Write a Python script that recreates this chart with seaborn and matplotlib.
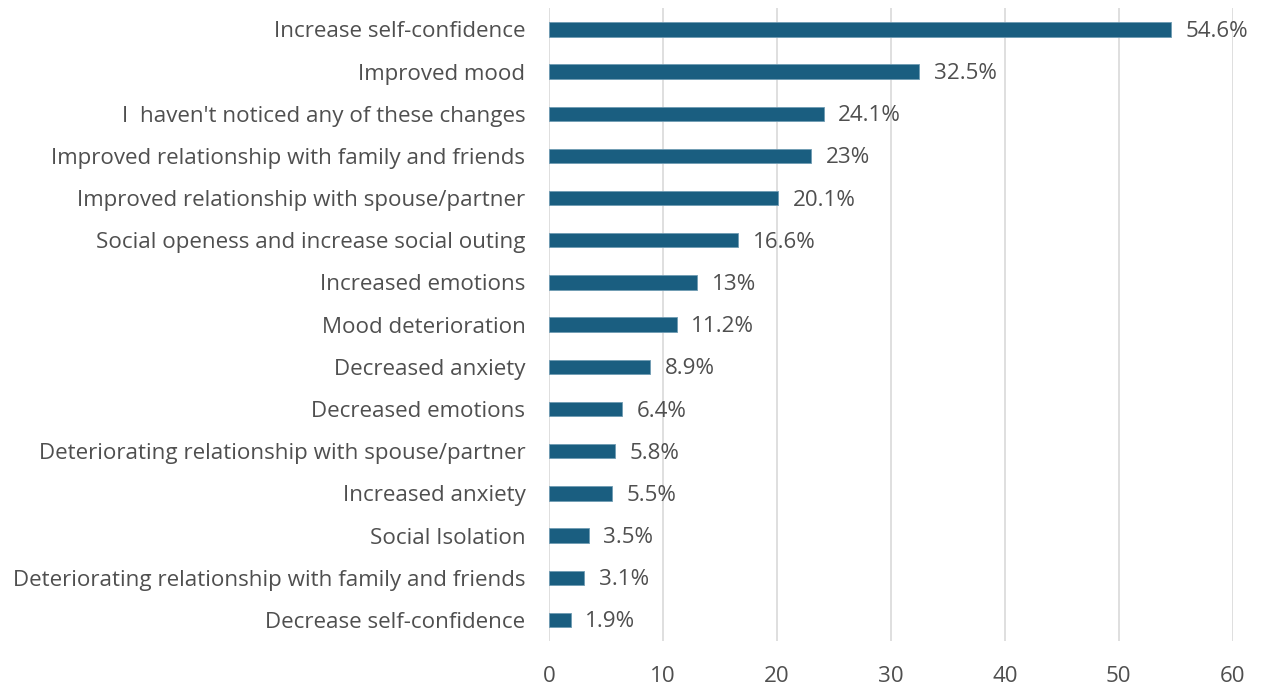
import matplotlib
matplotlib.use("Agg")
import matplotlib.pyplot as plt
import seaborn as sns
import pandas as pd

categories = [
    "Increase self-confidence",
    "Improved mood",
    "I  haven't noticed any of these changes",
    "Improved relationship with family and friends",
    "Improved relationship with spouse/partner",
    "Social openess and increase social outing",
    "Increased emotions",
    "Mood deterioration",
    "Decreased anxiety",
    "Decreased emotions",
    "Deteriorating relationship with spouse/partner",
    "Increased anxiety",
    "Social Isolation",
    "Deteriorating relationship with family and friends",
    "Decrease self-confidence",
]
values = [54.6, 32.5, 24.1, 23, 20.1, 16.6, 13, 11.2, 8.9, 6.4, 5.8, 5.5, 3.5, 3.1, 1.9]
value_labels = ["54.6%", "32.5%", "24.1%", "23%", "20.1%", "16.6%", "13%", "11.2%",
                "8.9%", "6.4%", "5.8%", "5.5%", "3.5%", "3.1%", "1.9%"]
xticks = [0, 10, 20, 30, 40, 50, 60]

sns.set_theme(style="white")
plt.rcParams["font.family"] = ["Open Sans", "DejaVu Sans"]
text_color = "#4f4f4f"
fs = 16.1

df = pd.DataFrame({"cat": categories, "val": values})

fig = plt.figure(figsize=(12.63, 6.89), dpi=100)
ax = fig.add_axes([0.4347, 0.0697, 0.976 - 0.4347, 0.988 - 0.0697])
sns.barplot(data=df, x="val", y="cat", color="#1a5e80", width=0.34,
            saturation=1, edgecolor="#6f9bb3", linewidth=0.6, ax=ax, zorder=3)

for i, (v, lab) in enumerate(zip(values, value_labels)):
    ax.annotate(lab, xy=(v, i), xytext=(10.5, -1.5), textcoords="offset points",
                va="center", ha="left", fontsize=fs, color=text_color)

ax.set_xlim(0, 60)
ax.set_ylim(14.5, -0.5)
ax.set_xticks(xticks)
ax.set_xticklabels([str(t) for t in xticks])
ax.xaxis.grid(True, color="#d9d9d9", linewidth=1.2, zorder=0)
ax.yaxis.grid(False)
for s in ax.spines.values():
    s.set_visible(False)
ax.tick_params(axis="x", length=0, pad=18, labelsize=fs, labelcolor=text_color)
ax.tick_params(axis="y", length=0, pad=17, labelsize=fs, labelcolor=text_color)
ax.set_xlabel("")
ax.set_ylabel("")

fig.savefig("out.png", dpi=100)
